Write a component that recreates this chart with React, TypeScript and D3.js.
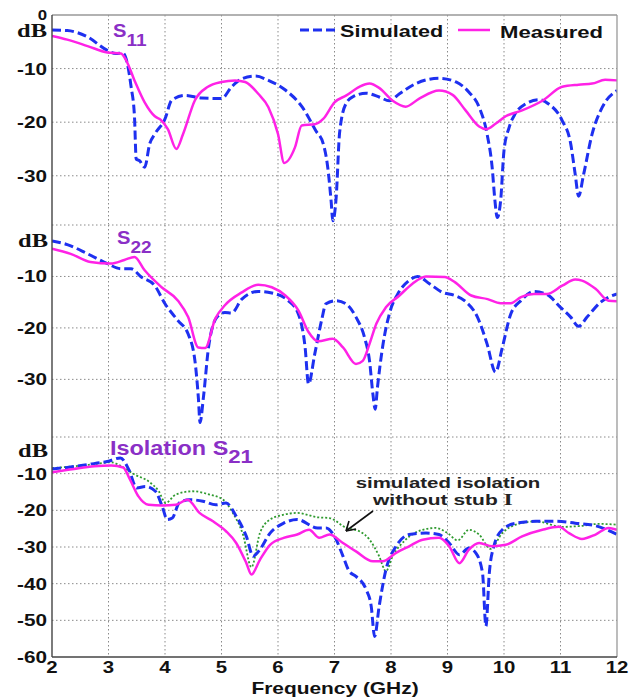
import React from 'react';
import * as d3 from 'd3';

const W = 635;
const H = 699;
const sans = '"Liberation Sans", Arial, sans-serif';
const serif = '"Liberation Serif", "Times New Roman", serif';
const BLUE = '#1e30f0';
const PINK = '#ff22e6';
const GREEN = '#2f9a2f';
const PURPLE = '#8a2fc6';

// frequency ticks
const freqTicks = [2, 3, 4, 5, 6, 7, 8, 9, 10, 11, 12];
const s11Ticks = [-10, -20, -30];
const s22Ticks = [-10, -20, -30];
const s21Ticks = [-10, -20, -30, -40, -50, -60];

// S11
const s11SimF = [2, 2.27, 2.63, 2.98, 3.13, 3.25, 3.34, 3.4, 3.46, 3.49, 3.55, 3.64, 3.73, 3.82, 4.0, 4.12, 4.36, 4.65, 5.0, 5.18, 5.36, 5.6, 5.83, 6.13, 6.43, 6.67, 6.8, 6.88, 6.94, 6.97, 7.03, 7.09, 7.2, 7.32, 7.56, 7.79, 7.97, 8.15, 8.44, 8.85, 9.15, 9.38, 9.56, 9.7, 9.79, 9.84, 9.88, 9.94, 10.0, 10.09, 10.2, 10.38, 10.62, 10.79, 11.03, 11.18, 11.26, 11.32, 11.41, 11.56, 11.74, 12.0];
const s11SimDb = [-2.8, -2.9, -4.1, -6.6, -7.2, -7.1, -9.4, -13.4, -19, -26.9, -27.2, -28.4, -24, -22.2, -19.4, -15.9, -15, -15.5, -15.6, -13.4, -11.9, -11.4, -12.2, -14.0, -17.2, -21.6, -24, -28.4, -34.7, -38.4, -34, -22, -16.6, -15.3, -14.6, -15.3, -16, -14.7, -12.8, -11.8, -12.5, -14.4, -17.2, -22.2, -28.4, -34.7, -37.8, -34.7, -25.3, -21, -18.4, -16.6, -15.8, -16.6, -19.7, -24, -29.7, -33.8, -29.7, -22.2, -17.2, -14.1];
const s11MeasF = [2, 2.27, 2.63, 2.98, 3.22, 3.31, 3.46, 3.64, 3.82, 3.93, 4.05, 4.2, 4.32, 4.53, 4.76, 5.0, 5.24, 5.42, 5.65, 5.83, 6.0, 6.11, 6.3, 6.42, 6.65, 6.8, 7.0, 7.21, 7.44, 7.62, 7.79, 8.03, 8.26, 8.5, 8.85, 9.09, 9.32, 9.56, 9.68, 9.85, 10.03, 10.32, 10.68, 11.03, 11.32, 11.56, 11.79, 12.0];
const s11MeasDb = [-3.9, -4.6, -5.8, -7.0, -7.2, -8.4, -12.2, -16.3, -18.9, -19.6, -21.3, -25, -22.2, -15.9, -13.4, -12.5, -12.2, -12.5, -14.7, -17.2, -22.2, -27.6, -24.7, -20.6, -20.4, -19.4, -16.3, -15, -13.4, -12.8, -13.6, -16, -17.1, -15.6, -14.1, -14.9, -17.8, -20.8, -21.3, -20.3, -18.9, -17.8, -16, -13.4, -13.0, -12.8, -12.1, -12.2];

// S22
const s22SimF = [2, 2.27, 2.63, 2.98, 3.22, 3.4, 3.58, 3.82, 4.0, 4.23, 4.41, 4.53, 4.59, 4.62, 4.68, 4.77, 4.92, 5.06, 5.18, 5.36, 5.65, 5.89, 6.18, 6.36, 6.48, 6.54, 6.65, 6.77, 6.85, 7.03, 7.2, 7.38, 7.53, 7.62, 7.68, 7.72, 7.76, 7.85, 7.97, 8.12, 8.32, 8.47, 8.68, 8.91, 9.13, 9.3, 9.53, 9.7, 9.85, 9.97, 10.12, 10.3, 10.53, 10.76, 11.0, 11.18, 11.32, 11.47, 11.71, 12.0];
const s22SimDb = [-3.1, -3.8, -5.6, -7.5, -8.5, -8.5, -10.1, -11.8, -15.3, -18.6, -21.2, -26.4, -33.5, -38.4, -33.5, -23.8, -17.9, -17, -17.1, -14.4, -12.9, -13.2, -14.7, -17.3, -23.8, -30.9, -25.1, -18.6, -15.3, -14.7, -15.3, -17.9, -21.8, -26.4, -32.9, -35.8, -31.6, -23.8, -17.3, -13.4, -10.8, -10.0, -11.4, -13.1, -13.7, -14.7, -17.9, -23.1, -28.6, -23.8, -17.3, -14.7, -12.9, -13.5, -16, -17.9, -19.7, -17.9, -15, -13.4];
const s22MeasF = [2, 2.33, 2.68, 3.04, 3.28, 3.46, 3.64, 3.94, 4.23, 4.41, 4.59, 4.71, 4.89, 5.06, 5.36, 5.65, 5.89, 6.13, 6.36, 6.54, 6.71, 6.97, 7.15, 7.38, 7.5, 7.62, 7.74, 7.91, 8.15, 8.38, 8.62, 8.95, 9.13, 9.42, 9.71, 9.94, 10.12, 10.3, 10.53, 10.76, 11.03, 11.26, 11.38, 11.62, 11.85, 12.0];
const s22MeasDb = [-4.6, -5.6, -7.2, -7.5, -6.8, -6.2, -8.8, -12.1, -14.7, -17.9, -23.8, -23.9, -18.2, -15.6, -13.1, -11.6, -12.1, -13.7, -16.6, -20.8, -22.6, -22.1, -23.8, -27, -26.4, -23.1, -19.2, -16, -13.7, -11.4, -10.0, -10.1, -11.1, -13.7, -14.4, -15.2, -15.2, -14.0, -13.4, -13.4, -11.8, -10.6, -10.8, -12.4, -14.7, -14.8];

// S21 isolation
const s21SimF = [2, 2.27, 2.63, 3.0, 3.21, 3.36, 3.5, 3.65, 3.83, 3.95, 4.04, 4.13, 4.25, 4.43, 4.67, 4.9, 5.08, 5.26, 5.44, 5.56, 5.68, 5.86, 6.1, 6.34, 6.7, 6.85, 7.03, 7.15, 7.26, 7.38, 7.56, 7.65, 7.71, 7.79, 7.91, 8.09, 8.32, 8.62, 8.85, 9.03, 9.21, 9.38, 9.5, 9.62, 9.68, 9.74, 9.82, 9.97, 10.21, 10.56, 10.91, 11.26, 11.62, 12.0];
const s21SimDb = [-8.7, -8.3, -7.5, -6.6, -5.7, -8.9, -13.9, -13.5, -14.8, -18.9, -22.5, -22.1, -18, -17.1, -17.5, -18.5, -18, -21.6, -27.1, -32.5, -30.7, -26.2, -23.5, -22.5, -24.8, -24.8, -28, -32.5, -36.6, -38, -41.6, -46.2, -54.4, -46.2, -36.2, -29.8, -26.6, -26.2, -26.6, -28.9, -32.1, -30.3, -31.6, -37.1, -51.6, -37.1, -29.8, -25.3, -23.5, -23, -23, -23.5, -24.2, -26.6];
const s21MeasF = [2, 2.39, 2.75, 3.05, 3.26, 3.38, 3.53, 3.71, 3.95, 4.19, 4.4, 4.61, 4.85, 5.08, 5.26, 5.44, 5.53, 5.68, 5.86, 6.1, 6.34, 6.55, 6.73, 6.91, 7.15, 7.38, 7.68, 7.85, 8.09, 8.32, 8.56, 8.85, 9.03, 9.21, 9.38, 9.56, 9.79, 10.03, 10.32, 10.68, 10.97, 11.15, 11.38, 11.62, 11.85, 12.0];
const s21MeasDb = [-9.6, -8.7, -8.0, -7.8, -8.3, -11.6, -16.2, -18.5, -18.7, -18.5, -17.1, -20.7, -23, -25.7, -28.9, -34.4, -37.5, -33.5, -29.4, -27.5, -26.6, -25.3, -27.5, -26.6, -28.9, -31.2, -33.9, -33.9, -31.6, -29.8, -28, -27.5, -29.8, -34.4, -30.7, -28.9, -29.8, -29.4, -27.1, -25.3, -24.5, -26.2, -27.8, -26.6, -24.8, -25.3];
const s21NoStubF = [2, 2.39, 2.75, 3.05, 3.23, 3.47, 3.71, 3.89, 4.01, 4.19, 4.49, 4.79, 5.03, 5.2, 5.38, 5.53, 5.68, 5.86, 6.1, 6.34, 6.7, 6.91, 7.21, 7.44, 7.62, 7.79, 7.91, 8.03, 8.26, 8.56, 8.79, 9.0, 9.18, 9.38, 9.56, 9.76, 9.97, 10.21, 10.56, 11.03, 11.32, 11.68, 12.0];
const s21NoStubDb = [-8.5, -8, -7.4, -6.9, -8, -10.3, -12.1, -14.8, -18, -15.7, -14.8, -15.7, -17.1, -20.7, -26.6, -35.5, -26.2, -22.5, -21.2, -20.7, -21.9, -22.1, -24.8, -25.7, -28, -32.5, -36.6, -32.5, -28, -25.3, -24.8, -26.2, -28.2, -25.3, -26.6, -30.5, -26.2, -23.9, -23, -24.5, -24.3, -23.7, -23.9];

const x = d3.scaleLinear().domain([2, 12]).range([52, 617]);
const yTop = d3.scaleLinear().domain([-39, 0]).range([224, 15]);
const yMid = d3.scaleLinear().domain([-41.2, 0]).range([437, 225]);
const yBot = d3.scaleLinear().domain([-60, 0]).range([657, 437]);

const zip = (f: number[], v: number[]) => f.map((d, i) => [d, v[i]] as [number, number]);

function T({ x, y, size = 17, sx = 1.22, anchor = 'start', fill = '#111', family = sans, children }: any) {
  return (
    <text transform={`translate(${x},${y}) scale(${sx},1)`} fontSize={size} fontWeight="bold"
      textAnchor={anchor} fill={fill} fontFamily={family}>{children}</text>
  );
}

function Panel({ y, id, series }: any) {
  const [y0, y1] = y.range();
  const line = d3.line<[number, number]>().x(d => x(d[0])).y(d => y(d[1])).curve(d3.curveMonotoneX);
  return (
    <g>
      <clipPath id={id}>
        <rect x={x(2)} y={y1} width={x(12) - x(2)} height={y0 - y1} />
      </clipPath>
      {freqTicks.slice(1, -1).map(f => (
        <line key={f} x1={x(f)} x2={x(f)} y1={y1} y2={y0} stroke="#8a8a8a" strokeWidth={1} strokeDasharray="1.5,2.5" />
      ))}
      <g clipPath={`url(#${id})`}>
        {series.map((s: any, i: number) => (
          <path key={i} d={line(zip(s.f, s.v)) || ''} fill="none" stroke={s.color}
            strokeWidth={s.w} strokeDasharray={s.dash} strokeLinejoin="round" />
        ))}
      </g>
    </g>
  );
}

function hGrid(y: any, ticks: number[]) {
  return ticks.map(t => (
    <line key={t} x1={x(2)} x2={x(12)} y1={y(t)} y2={y(t)} stroke="#8a8a8a" strokeWidth={1} strokeDasharray="1.5,2.5" />
  ));
}

function tickLabels(y: any, ticks: number[]) {
  return ticks.map(t => (
    <T key={t} x={47} y={y(t) + 6} anchor="end" sx={1.22}>{String(t)}</T>
  ));
}

export default function App() {
  const sim = { color: BLUE, w: 3, dash: '9,4' };
  const meas = { color: PINK, w: 2.5, dash: undefined };
  return (
    <svg width={W} height={H} style={{ position: 'absolute', left: 0, top: 0, background: '#fff' }}>
      <rect width={W} height={H} fill="#fff" />
      {/* grids */}
      {hGrid(yTop, [-10, -20, -30])}
      {hGrid(yMid, [0, -10, -20, -30])}
      {hGrid(yBot, [0, -10, -20, -30, -40, -50])}

      <Panel y={yTop} id="cTop" series={[
        { f: s11SimF, v: s11SimDb, ...sim },
        { f: s11MeasF, v: s11MeasDb, ...meas },
      ]} />
      <Panel y={yMid} id="cMid" series={[
        { f: s22SimF, v: s22SimDb, ...sim },
        { f: s22MeasF, v: s22MeasDb, ...meas },
      ]} />
      <Panel y={yBot} id="cBot" series={[
        { f: s21NoStubF, v: s21NoStubDb, color: GREEN, w: 1.8, dash: '2,2' },
        { f: s21SimF, v: s21SimDb, ...sim },
        { f: s21MeasF, v: s21MeasDb, ...meas },
      ]} />

      {/* frame */}
      <line x1={x(2)} x2={x(12)} y1={15} y2={15} stroke="#999" strokeWidth={1.3} />
      <line x1={x(12)} x2={x(12)} y1={15} y2={657} stroke="#999" strokeWidth={1.3} />
      <line x1={x(2)} x2={x(2)} y1={15} y2={657} stroke="#444" strokeWidth={1.4} />
      <line x1={x(2)} x2={x(12)} y1={657} y2={657} stroke="#444" strokeWidth={1.4} />

      {/* y ticks */}
      <T x={47} y={20} anchor="end" size={14} sx={1.2}>0</T>
      {tickLabels(yTop, s11Ticks)}
      {tickLabels(yBot, s21Ticks)}
      {tickLabels(yMid, s22Ticks)}
      <T x={47} y={37} anchor="end" family={serif} size={18} sx={1.36}>dB</T>
      <T x={48} y={247} anchor="end" family={serif} size={18} sx={1.36}>dB</T>
      <T x={48} y={457} anchor="end" family={serif} size={18} sx={1.36}>dB</T>

      {/* x ticks */}
      {freqTicks.map(f => (
        <T key={f} x={x(f)} y={673} anchor="middle" sx={1.2}>{String(f)}</T>
      ))}
      <T x={335} y={694} anchor="middle" sx={1.23}>Frequency (GHz)</T>

      {/* titles */}
      <T x={113} y={37} size={18} sx={1.12} fill={PURPLE}>S<tspan dy={9} fontSize={17}>11</tspan></T>
      <T x={117} y={244} size={18} sx={1.12} fill={PURPLE}>S<tspan dy={9} fontSize={17}>22</tspan></T>
      <T x={110} y={455} size={20} sx={1.17} fill={PURPLE}>Isolation S<tspan dy={8} fontSize={19}>21</tspan></T>

      {/* legend */}
      <line x1={300} x2={335} y1={30} y2={30} stroke={BLUE} strokeWidth={3} strokeDasharray="9,4" />
      <T x={340} y={37} sx={1.27}>Simulated</T>
      <line x1={458} x2={490} y1={30} y2={30} stroke={PINK} strokeWidth={2.5} />
      <T x={500} y={38} sx={1.3}>Measured</T>

      {/* annotation */}
      <T x={448} y={488} size={15} sx={1.36} anchor="middle" fill="#222">simulated isolation</T>
      <T x={373} y={505} size={15} sx={1.4} fill="#222">without stub <tspan fontFamily={serif} fontSize={17}>I</tspan></T>
      <line x1={373} y1={511} x2={346} y2={531} stroke="#111" strokeWidth={1.6} />
      <path d="M346,531 L349,521 M346,531 L356,529" stroke="#111" strokeWidth={1.6} fill="none" />
    </svg>
  );
}
